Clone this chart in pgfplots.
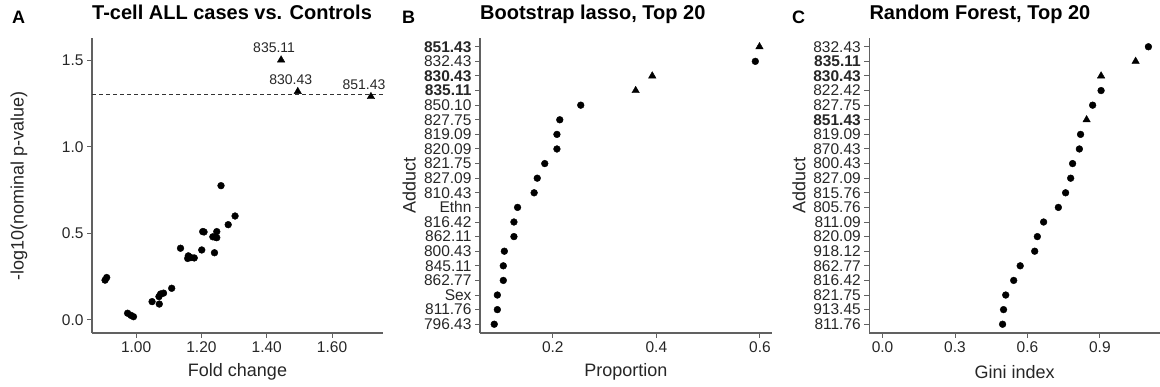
\documentclass[border=0pt]{standalone}
\usepackage{fontspec}
\setmainfont{Liberation Sans}
\usepackage{pgfplots}
\pgfplotsset{compat=1.18}
\definecolor{axgray}{gray}{0.38}
\definecolor{txtgray}{gray}{0.15}
\pgfplotsset{
  gg/.style={
    scale only axis,
    axis lines=left,
    axis line style={-, draw=axgray, line width=1.2pt},
    tick style={draw=axgray, line width=1.0pt},
    major tick length=5pt,
    tick align=outside,
    clip=false,
    /pgf/number format/assume math mode=true,
    tick label style={font=\fontsize{15.5}{17}\selectfont, text=txtgray},
    label style={font=\fontsize{18}{20}\selectfont, text=txtgray},
    title style={at={(axis description cs:0,1)}, anchor=base west, yshift=12pt, inner sep=0pt, font=\bfseries\fontsize{20}{24}\selectfont},
    xlabel style={at={(axis description cs:0.5,-0.132)}, anchor=center},
  },
  circ/.style={only marks, mark=*, mark size=3.4pt, black},
  tri/.style={only marks, mark=triangle*, mark size=4.3pt, black},
}
\begin{document}
\begin{tikzpicture}
\useasboundingbox (0pt,0pt) rectangle (1160pt,387pt);
% panel letters
\node[anchor=base west, inner sep=0pt, font=\bfseries\fontsize{18}{20}\selectfont] at (12pt,363.7pt) {A};
\node[anchor=base west, inner sep=0pt, font=\bfseries\fontsize{18}{20}\selectfont] at (402pt,363.7pt) {B};
\node[anchor=base west, inner sep=0pt, font=\bfseries\fontsize{18}{20}\selectfont] at (792pt,363.7pt) {C};

% ---------------- Panel A
\begin{axis}[gg,
  at={(92pt,54pt)}, anchor=south west,
  width=291pt, height=295pt,
  xmin=0.865, xmax=1.756, ymin=-0.075, ymax=1.627,
  xtick={1.0,1.2,1.4,1.6}, ytick={0,0.5,1.0,1.5},
  xticklabel style={/pgf/number format/.cd, fixed, fixed zerofill, precision=2},
  yticklabel style={/pgf/number format/.cd, fixed, fixed zerofill, precision=1},
  title={T-cell ALL cases vs. Controls},
  xlabel={Fold change},
  ylabel={-log10(nominal p-value)},
  ylabel style={at={(axis description cs:-0.251,0.5)}, anchor=center},
]
\addplot[black!80, line width=0.8pt, dash pattern=on 4pt off 3pt] coordinates {(0.865,1.301) (1.756,1.301)};
\addplot[circ] coordinates {
(0.905,0.230) (0.910,0.245) (0.974,0.039) (0.984,0.027) (0.992,0.019)
(1.049,0.106) (1.071,0.092) (1.070,0.135) (1.075,0.150) (1.084,0.155)
(1.109,0.183) (1.136,0.414) (1.158,0.355) (1.160,0.370) (1.168,0.360)
(1.178,0.358) (1.201,0.404) (1.204,0.510) (1.208,0.508) (1.240,0.388)
(1.235,0.480) (1.242,0.478) (1.247,0.475) (1.247,0.510) (1.260,0.775)
(1.282,0.550) (1.303,0.600)
};
\addplot[tri] coordinates {(1.444,1.500) (1.495,1.318) (1.719,1.289)};
\node[font=\fontsize{14}{16}\selectfont, text=txtgray, xshift=-7pt, yshift=12pt] at (axis cs:1.444,1.500) {835.11};
\node[font=\fontsize{14}{16}\selectfont, text=txtgray, xshift=-7pt, yshift=12pt] at (axis cs:1.495,1.318) {830.43};
\node[font=\fontsize{14}{16}\selectfont, text=txtgray, xshift=-7pt, yshift=12pt] at (axis cs:1.719,1.289) {851.43};
\end{axis}

% ---------------- Panel B
\begin{axis}[gg,
  at={(480pt,54pt)}, anchor=south west,
  width=291.7pt, height=295pt,
  xmin=0.0595, xmax=0.6226, ymin=-0.6, ymax=19.6,
  xtick={0.2,0.4,0.6}, ytick={0,...,19},
  xticklabel style={/pgf/number format/.cd, fixed, precision=1},
  yticklabels={796.43,811.76,Sex,862.77,845.11,800.43,862.11,816.42,Ethn,810.43,827.09,821.75,820.09,819.09,827.75,850.10,\textbf{835.11},\textbf{830.43},832.43,\textbf{851.43}},
  title={Bootstrap lasso, Top 20},
  xlabel={Proportion},
  ylabel={Adduct},
  ylabel style={at={(axis description cs:-0.243,0.5)}, anchor=center},
]
\addplot[circ] coordinates {
(0.087,0) (0.093,1) (0.093,2) (0.1045,3) (0.1045,4) (0.1065,5) (0.125,6) (0.125,7)
(0.132,8) (0.164,9) (0.170,10) (0.1845,11) (0.208,12) (0.208,13) (0.2135,14) (0.254,15)
(0.591,18)
};
\addplot[tri] coordinates {(0.360,16) (0.392,17) (0.599,19)};
\end{axis}

% ---------------- Panel C
\begin{axis}[gg,
  at={(869.3pt,54pt)}, anchor=south west,
  width=290.7pt, height=295pt,
  xmin=-0.055, xmax=1.149, ymin=-0.6, ymax=19.6,
  xtick={0,0.3,0.6,0.9}, ytick={0,...,19},
  xticklabel style={/pgf/number format/.cd, fixed, fixed zerofill, precision=1},
  yticklabels={811.76,913.45,821.75,816.42,862.77,918.12,820.09,811.09,805.76,815.76,827.09,800.43,870.43,819.09,\textbf{851.43},827.75,822.42,\textbf{830.43},\textbf{835.11},832.43},
  title={Random Forest, Top 20},
  xlabel={Gini index},
  ylabel={Adduct},
  ylabel style={at={(axis description cs:-0.242,0.5)}, anchor=center},
]
\addplot[circ] coordinates {
(0.497,0) (0.501,1) (0.510,2) (0.543,3) (0.570,4) (0.630,5) (0.641,6) (0.667,7)
(0.728,8) (0.758,9) (0.779,10) (0.787,11) (0.815,12) (0.820,13) (0.870,15) (0.905,16)
(1.101,19)
};
\addplot[tri] coordinates {(0.845,14) (0.905,17) (1.048,18)};
\end{axis}
\end{tikzpicture}
\end{document}
